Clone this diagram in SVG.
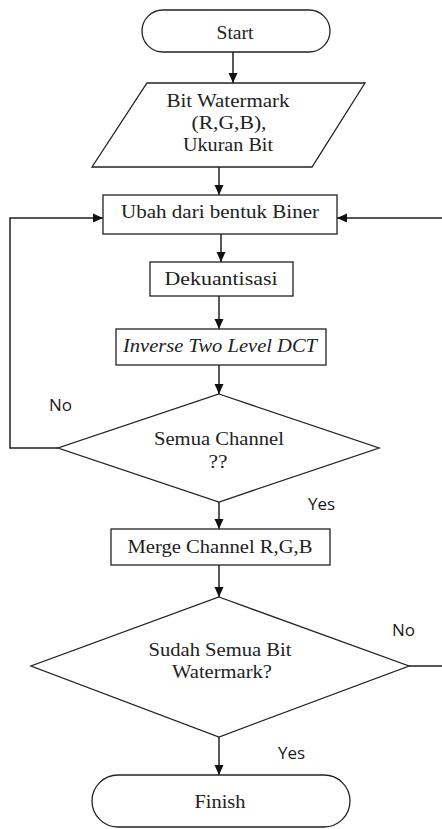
<svg xmlns="http://www.w3.org/2000/svg" width="442" height="829" viewBox="0 0 442 829">
  <style>
    .shape { fill: #ffffff; stroke: #222222; stroke-width: 1.3; }
    .edge { fill: none; stroke: #222222; stroke-width: 1.5; }
    .t { font-family: "Liberation Serif", "Times New Roman", serif; font-size: 19px; fill: #222222; text-anchor: middle; }
    .it { font-style: italic; }
    .lbl { font-family: "Open Sans", "Liberation Sans", sans-serif; font-size: 17px; fill: #1a1a1a; }
  </style>
  <defs>
    <marker id="arrow" markerUnits="userSpaceOnUse" markerWidth="10" markerHeight="10" viewBox="0 0 10 10" refX="10" refY="5" orient="auto">
      <path d="M0,0.5 L10,5 L0,9.5 Z" fill="#111111"/>
    </marker>
  </defs>
  <rect width="442" height="829" fill="#ffffff"/>

  <!-- connectors -->
  <g id="connectors">
    <path class="edge" d="M233 52 V83" marker-end="url(#arrow)"/>
    <path class="edge" d="M219 167 V195" marker-end="url(#arrow)"/>
    <path class="edge" d="M221 234 V262" marker-end="url(#arrow)"/>
    <path class="edge" d="M219 296 V329" marker-end="url(#arrow)"/>
    <path class="edge" d="M219 365 V394" marker-end="url(#arrow)"/>
    <path class="edge" d="M219 502 V529" marker-end="url(#arrow)"/>
    <path class="edge" d="M219 565 V597" marker-end="url(#arrow)"/>
    <path class="edge" d="M219 737 V775" marker-end="url(#arrow)"/>
    <!-- "No" loop from the channel check back to the conversion step -->
    <path class="edge" d="M58 448 H10 V218 H103" marker-end="url(#arrow)"/>
    <!-- "No" loop from the bit check, routed along the right margin -->
    <path class="edge" d="M409 666 H446 V218 H337" marker-end="url(#arrow)"/>
    <text class="lbl" x="49" y="411">No</text>
    <text class="lbl" x="308" y="510">Yes</text>
    <text class="lbl" x="392" y="636">No</text>
    <text class="lbl" x="278" y="759">Yes</text>
  </g>

  <g id="start">
    <rect class="shape" x="142" y="10" width="188" height="42" rx="21" ry="21"/>
    <text class="t" x="235" y="39" textLength="37" lengthAdjust="spacingAndGlyphs">Start</text>
  </g>

  <g id="input">
    <polygon class="shape" points="147,83 365,83 312,167 92,167"/>
    <text class="t" x="228" y="107" textLength="123" lengthAdjust="spacingAndGlyphs">Bit Watermark</text>
    <text class="t" x="229" y="129" textLength="75" lengthAdjust="spacingAndGlyphs">(R,G,B),</text>
    <text class="t" x="228" y="151" textLength="90" lengthAdjust="spacingAndGlyphs">Ukuran Bit</text>
  </g>

  <g id="ubah">
    <rect class="shape" x="103" y="195" width="234" height="39"/>
    <text class="t" x="220" y="218" textLength="198" lengthAdjust="spacingAndGlyphs">Ubah dari bentuk Biner</text>
  </g>

  <g id="dekuantisasi">
    <rect class="shape" x="150" y="262" width="143" height="34"/>
    <text class="t" x="221" y="285" textLength="113" lengthAdjust="spacingAndGlyphs">Dekuantisasi</text>
  </g>

  <g id="inverse-dct">
    <rect class="shape" x="116" y="329" width="210" height="36"/>
    <text class="t it" x="220" y="352" textLength="194" lengthAdjust="spacingAndGlyphs">Inverse Two Level DCT</text>
  </g>

  <g id="cek-channel">
    <polygon class="shape" points="219,394 379,448 219,502 58,448"/>
    <text class="t" x="219" y="445" textLength="130" lengthAdjust="spacingAndGlyphs">Semua Channel</text>
    <text class="t" x="218" y="468" textLength="19" lengthAdjust="spacingAndGlyphs">??</text>
  </g>

  <g id="merge">
    <rect class="shape" x="111" y="529" width="219" height="36"/>
    <text class="t" x="220" y="553" textLength="185" lengthAdjust="spacingAndGlyphs">Merge Channel R,G,B</text>
  </g>

  <g id="cek-bit">
    <polygon class="shape" points="219,597 409,666 219,737 31,666"/>
    <text class="t" x="220" y="656" textLength="143" lengthAdjust="spacingAndGlyphs">Sudah Semua Bit</text>
    <text class="t" x="222" y="678" textLength="100" lengthAdjust="spacingAndGlyphs">Watermark?</text>
  </g>

  <g id="finish">
    <rect class="shape" x="92" y="775" width="258" height="52" rx="26" ry="26"/>
    <text class="t" x="220" y="808" textLength="51" lengthAdjust="spacingAndGlyphs">Finish</text>
  </g>
</svg>
